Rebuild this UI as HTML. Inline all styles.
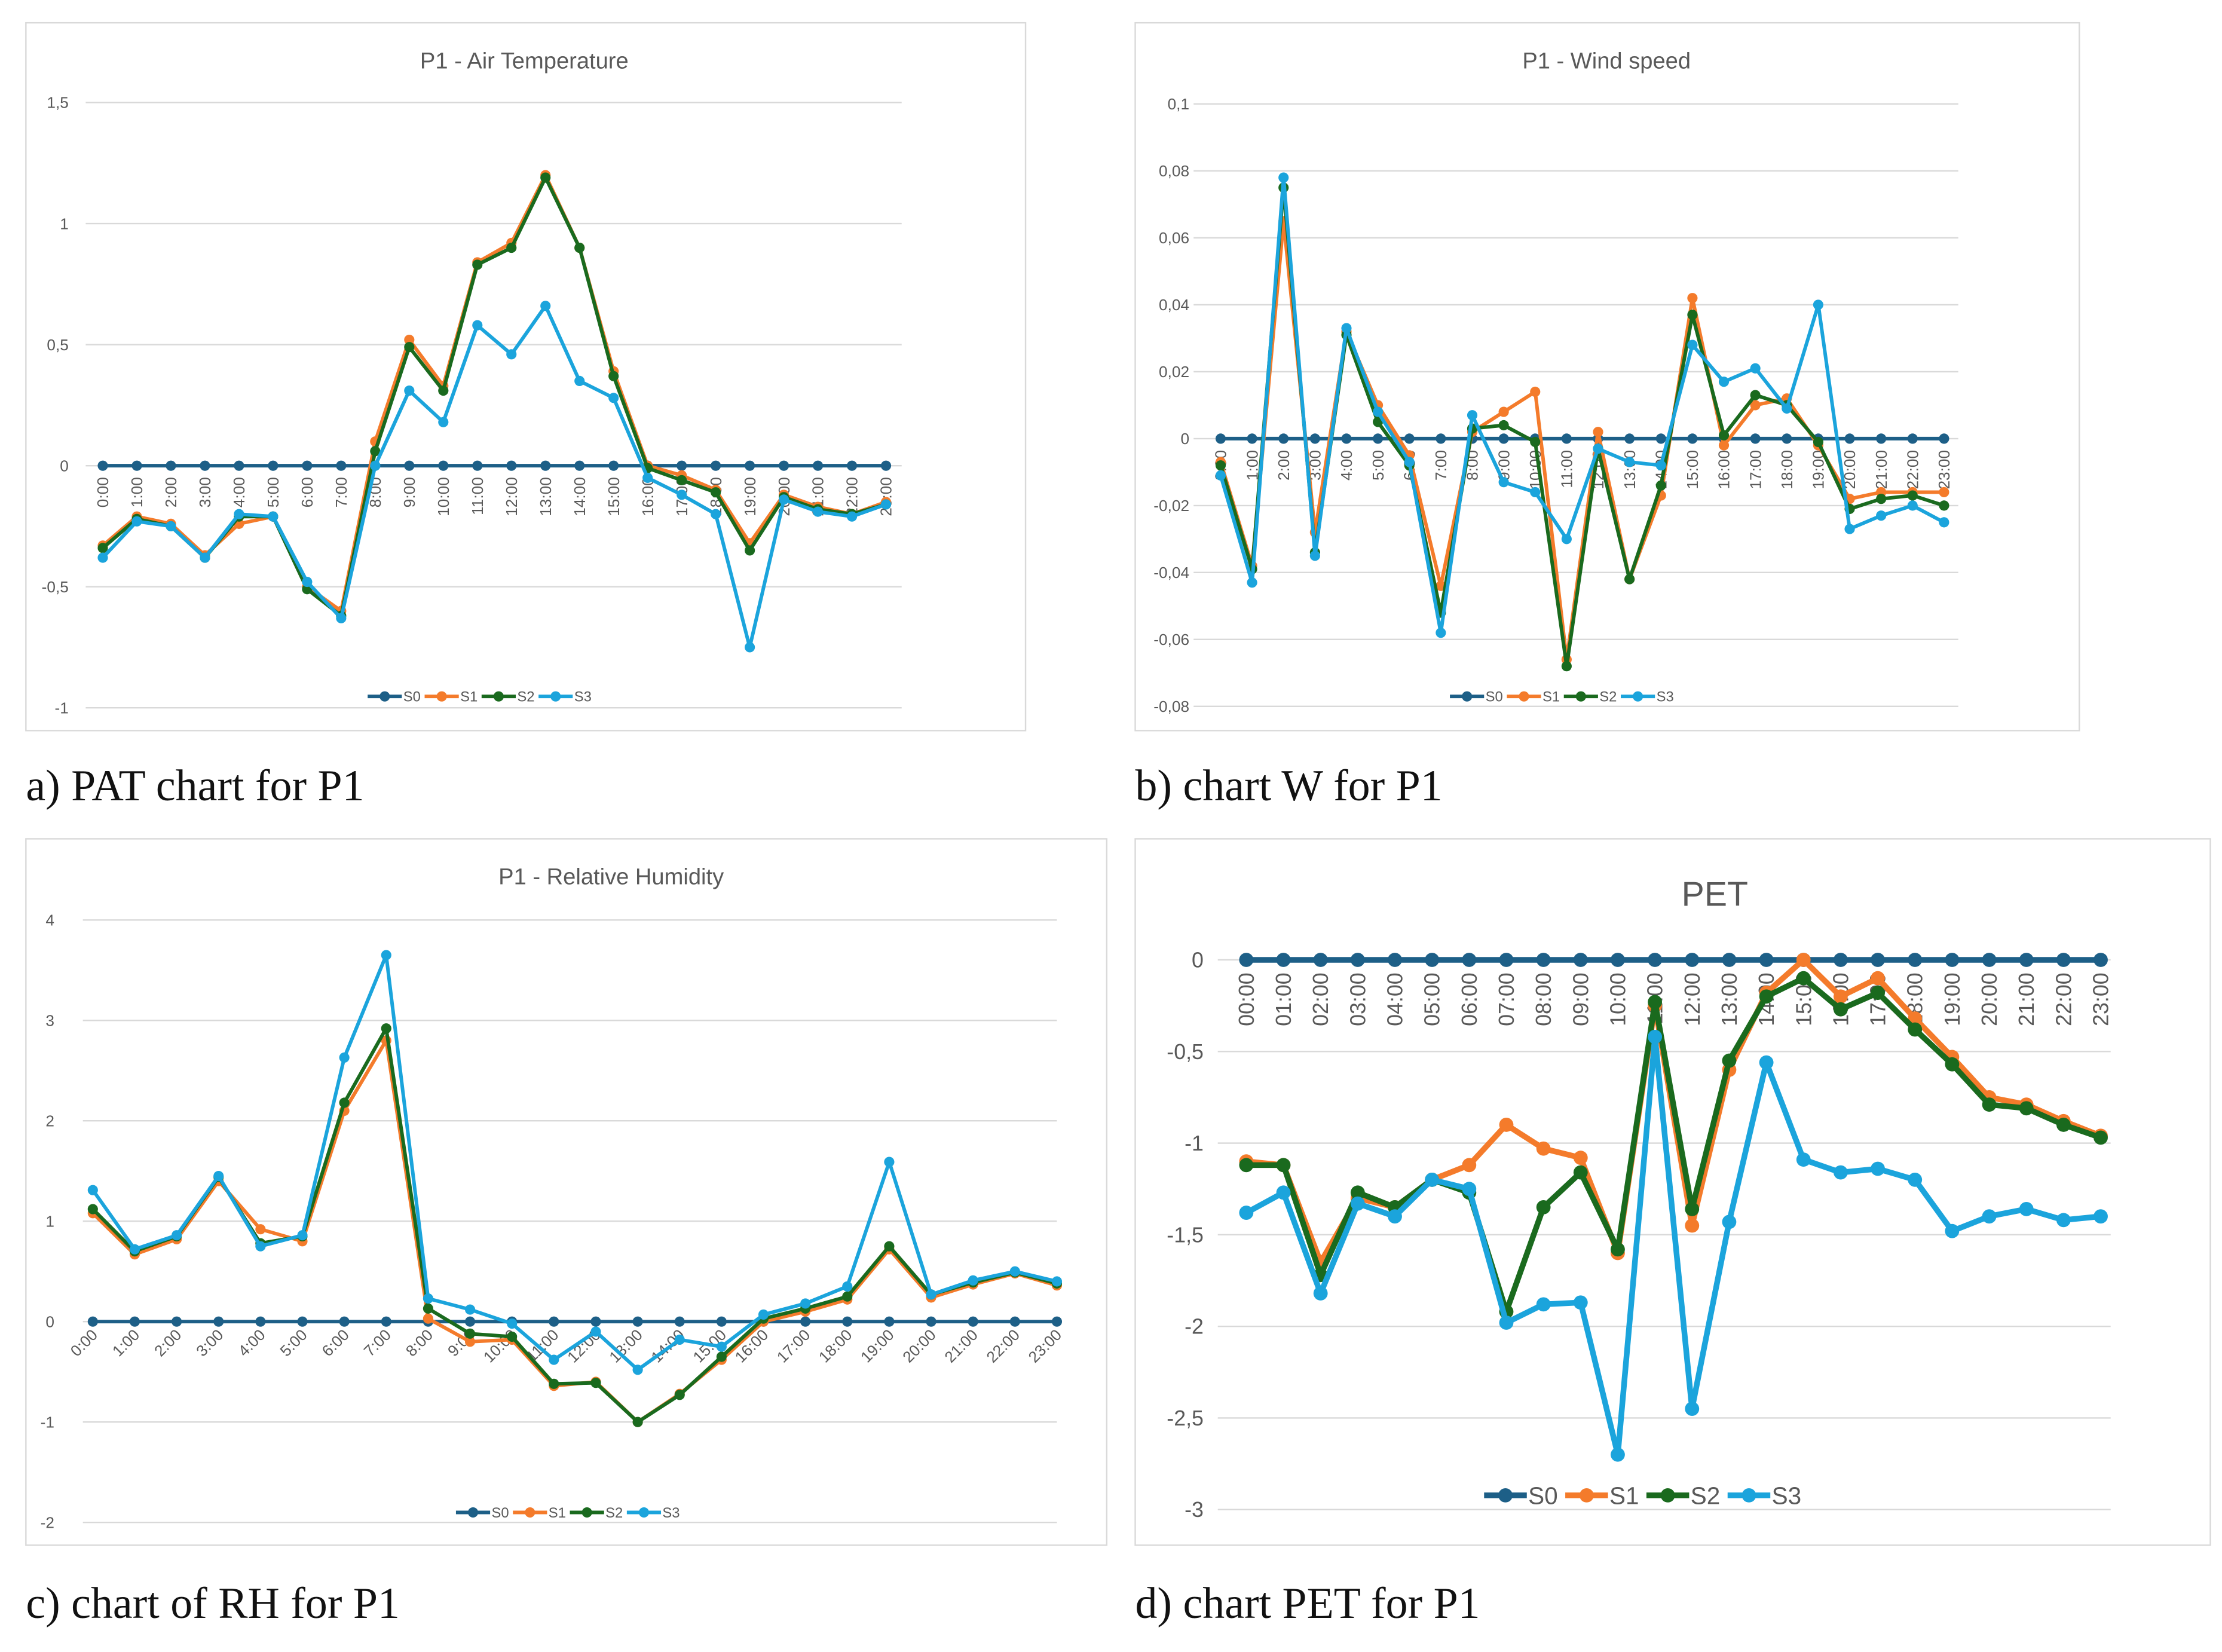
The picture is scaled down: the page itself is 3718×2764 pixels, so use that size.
<!DOCTYPE html>
<html><head><meta charset="utf-8">
<style>
html,body{margin:0;padding:0;background:#fff;}
svg{display:block;}
text{font-family:"Liberation Sans",sans-serif;}
.cap{font-family:"Liberation Serif",serif;font-size:31px;fill:#111;}
</style></head>
<body>
<svg id="root" width="3718" height="2764" viewBox="0 0 1560 1160" xmlns="http://www.w3.org/2000/svg">
<rect x="0" y="0" width="1560" height="1160" fill="#fff"/>
<text class="cap" x="18" y="562">a) PAT chart for P1</text>
<text class="cap" x="797" y="562">b) chart W for P1</text>
<text class="cap" x="18" y="1136">c) chart of RH for P1</text>
<text class="cap" x="797" y="1136">d) chart PET for P1</text>
</svg>
<script>
const hours = ["0:00","1:00","2:00","3:00","4:00","5:00","6:00","7:00","8:00","9:00","10:00","11:00","12:00","13:00","14:00","15:00","16:00","17:00","18:00","19:00","20:00","21:00","22:00","23:00"];
const hoursPET = ["00:00","01:00","02:00","03:00","04:00","05:00","06:00","07:00","08:00","09:00","10:00","11:00","12:00","13:00","14:00","15:00","16:00","17:00","18:00","19:00","20:00","21:00","22:00","23:00"];
const seriesNames = ["S0","S1","S2","S3"];
const s0 = [0,0,0,0,0,0,0,0,0,0,0,0,0,0,0,0,0,0,0,0,0,0,0,0];

const patS1 = [-0.33,-0.21,-0.24,-0.37,-0.24,-0.21,-0.5,-0.6,0.1,0.52,0.33,0.84,0.92,1.2,0.9,0.39,0.0,-0.04,-0.1,-0.32,-0.12,-0.17,-0.2,-0.15];
const patS2 = [-0.34,-0.22,-0.25,-0.38,-0.21,-0.21,-0.51,-0.62,0.06,0.49,0.31,0.83,0.9,1.19,0.9,0.37,-0.01,-0.06,-0.11,-0.35,-0.13,-0.18,-0.2,-0.16];
const patS3 = [-0.38,-0.23,-0.25,-0.38,-0.2,-0.21,-0.48,-0.63,0.0,0.31,0.18,0.58,0.46,0.66,0.35,0.28,-0.05,-0.12,-0.2,-0.75,-0.14,-0.19,-0.21,-0.16];
const patTicks = ["1,5","1","0,5","0","-0,5","-1"];
const patTickVals = [1.5,1,0.5,0,-0.5,-1];

const wS1 = [-0.007,-0.038,0.065,-0.028,0.032,0.01,-0.005,-0.044,0.002,0.008,0.014,-0.066,0.002,-0.042,-0.017,0.042,-0.002,0.010,0.012,-0.002,-0.018,-0.016,-0.016,-0.016];
const wS2 = [-0.008,-0.039,0.075,-0.034,0.031,0.005,-0.008,-0.052,0.003,0.004,-0.001,-0.068,-0.003,-0.042,-0.014,0.037,0.001,0.013,0.010,-0.001,-0.021,-0.018,-0.017,-0.020];
const wS3 = [-0.011,-0.043,0.078,-0.035,0.033,0.008,-0.007,-0.058,0.007,-0.013,-0.016,-0.030,-0.003,-0.007,-0.008,0.028,0.017,0.021,0.009,0.040,-0.027,-0.023,-0.020,-0.025];
const wTicks = ["0,1","0,08","0,06","0,04","0,02","0","-0,02","-0,04","-0,06","-0,08"];
const wTickVals = [0.1,0.08,0.06,0.04,0.02,0,-0.02,-0.04,-0.06,-0.08];

const rhS1 = [1.08,0.67,0.82,1.4,0.92,0.8,2.1,2.8,0.03,-0.2,-0.18,-0.64,-0.6,-1.0,-0.72,-0.38,0.0,0.1,0.22,0.72,0.24,0.37,0.48,0.36];
const rhS2 = [1.12,0.7,0.85,1.44,0.78,0.85,2.18,2.92,0.13,-0.12,-0.15,-0.62,-0.61,-1.0,-0.73,-0.35,0.03,0.13,0.25,0.75,0.27,0.39,0.49,0.38];
const rhS3 = [1.31,0.72,0.86,1.45,0.75,0.86,2.63,3.65,0.23,0.12,-0.02,-0.38,-0.1,-0.48,-0.18,-0.25,0.07,0.18,0.35,1.59,0.27,0.41,0.5,0.4];
const rhTicks = ["4","3","2","1","0","-1","-2"];
const rhTickVals = [4,3,2,1,0,-1,-2];

const petS1 = [-1.1,-1.12,-1.65,-1.3,-1.35,-1.2,-1.12,-0.9,-1.03,-1.08,-1.6,-0.25,-1.45,-0.6,-0.18,0.0,-0.2,-0.1,-0.32,-0.53,-0.75,-0.79,-0.88,-0.96];
const petS2 = [-1.12,-1.12,-1.72,-1.27,-1.35,-1.2,-1.27,-1.92,-1.35,-1.16,-1.58,-0.23,-1.36,-0.55,-0.2,-0.1,-0.27,-0.18,-0.38,-0.57,-0.79,-0.81,-0.9,-0.97];
const petS3 = [-1.38,-1.27,-1.82,-1.33,-1.4,-1.2,-1.25,-1.98,-1.88,-1.87,-2.7,-0.42,-2.45,-1.43,-0.56,-1.09,-1.16,-1.14,-1.2,-1.48,-1.4,-1.36,-1.42,-1.4];
const petTicks = ["0","-0,5","-1","-1,5","-2","-2,5","-3"];
const petTickVals = [0,-0.5,-1,-1.5,-2,-2.5,-3];

const colors = ["#1d5f87","#f47b2b","#1a6a1e","#1ba4dc"];
const NS = "http://www.w3.org/2000/svg";
const root = document.getElementById("root");
function mk(tag, attrs, parent){const e=document.createElementNS(NS,tag);for(const k in attrs)e.setAttribute(k,attrs[k]);(parent||root).appendChild(e);return e;}

function chart(cfg){
  const g = mk("g",{});
  
  
  const box = mk("rect",{x:cfg.box[0],y:cfg.box[1],width:cfg.box[2],height:cfg.box[3],fill:"#fff",stroke:"#d9d9d9","stroke-width":1},g);
  
  
  const t = mk("text",{x:cfg.titleX,y:cfg.titleY,"text-anchor":"middle","font-size":cfg.titleSize,fill:"#595959"},g);
  t.textContent = cfg.title;
  
  
  const [v0,y0,v1,y1] = cfg.yMap;
  const Y = v => y0 + (v - v0) * (y1 - y0) / (v1 - v0);
  const X = i => cfg.x0 + i * (cfg.x1 - cfg.x0) / 23;
  cfg.tickVals.forEach((v,i)=>{
    const l = mk("line",{x1:cfg.gx0,x2:cfg.gx1,y1:Y(v),y2:Y(v),stroke:"#d9d9d9","stroke-width":1},g);
    
    
    const tt = mk("text",{x:cfg.tickX,y:Y(v)+cfg.tickSize*0.35,"text-anchor":"end","font-size":cfg.tickSize,fill:"#595959"},g);
    tt.textContent = cfg.ticks[i];
    
    
  });
  const y0p = Y(0);
  cfg.cats.forEach((c,i)=>{
    const x = X(i);
    let tx;
    if(cfg.rot === -90){
      tx = mk("text",{x:0,y:0,"text-anchor":"end","font-size":cfg.catSize,fill:"#595959",transform:`translate(${x+cfg.catSize*0.35},${y0p+cfg.catOff}) rotate(-90)`},g);
    } else {
      tx = mk("text",{x:0,y:0,"text-anchor":"end","font-size":cfg.catSize,fill:"#595959",transform:`translate(${x+4},${y0p+cfg.catOff}) rotate(-45)`},g);
    }
    tx.textContent = c;
    
    
  });
  cfg.series.forEach((vals,si)=>{
    const pts = vals.map((v,i)=>X(i).toFixed(1)+","+Y(v).toFixed(1)).join(" ");
    const pl = mk("polyline",{points:pts,fill:"none",stroke:colors[si],"stroke-width":cfg.lw,"stroke-linejoin":"round"},g);
    
    
    vals.forEach((v,i)=>{
      const c = mk("circle",{cx:X(i),cy:Y(v),r:cfg.mr,fill:colors[si]},g);
      
      
    });
  });
  // legend
  let lx = cfg.legX;
  seriesNames.forEach((n,si)=>{
    const lg = mk("g",{},g);
    
    
    mk("line",{x1:lx,x2:lx+cfg.legLine,y1:cfg.legY,y2:cfg.legY,stroke:colors[si],"stroke-width":cfg.lw},lg);
    mk("circle",{cx:lx+cfg.legLine/2,cy:cfg.legY,r:cfg.mr,fill:colors[si]},lg);
    const lt = mk("text",{x:lx+cfg.legLine+1,y:cfg.legY+cfg.legSize*0.36,"font-size":cfg.legSize,fill:"#595959"},lg);
    lt.textContent = n;
    lx += cfg.legStep;
  });
}

chart({name:"chart-air-temperature",box:[18,16,702,497],title:"P1 - Air Temperature",titleX:368,titleY:48,titleSize:16,
  yMap:[0,327,1,157],x0:72,x1:622,gx0:60,gx1:633,tickX:48,tickSize:11,ticks:patTicks,tickVals:patTickVals,
  cats:hours,rot:-90,catSize:11,catOff:8,series:[s0,patS1,patS2,patS3],lw:2.5,mr:3.6,
  legX:258,legY:489,legLine:24,legStep:40,legSize:10});
chart({name:"chart-wind-speed",box:[797,16,663,497],title:"P1 - Wind speed",titleX:1128,titleY:48,titleSize:16,
  yMap:[0,308,0.08,120],x0:857,x1:1365,gx0:838,gx1:1375,tickX:835,tickSize:11,ticks:wTicks,tickVals:wTickVals,
  cats:hours,rot:-90,catSize:11,catOff:8,series:[s0,wS1,wS2,wS3],lw:2.5,mr:3.6,
  legX:1018,legY:489,legLine:24,legStep:40,legSize:10});
chart({name:"chart-relative-humidity",box:[18,589,759,496],title:"P1 - Relative Humidity",titleX:429,titleY:621,titleSize:16,
  yMap:[0,928,4,646],x0:65,x1:742,gx0:58,gx1:742,tickX:38,tickSize:11,ticks:rhTicks,tickVals:rhTickVals,
  cats:hours,rot:-45,catSize:11,catOff:10,series:[s0,rhS1,rhS2,rhS3],lw:2.5,mr:3.6,
  legX:320,legY:1062,legLine:24,legStep:40,legSize:10});
chart({name:"chart-pet",box:[797,589,755,496],title:"PET",titleX:1204,titleY:636,titleSize:24,
  yMap:[0,674,-3,1060],x0:875,x1:1475,gx0:855,gx1:1482,tickX:845,tickSize:15,ticks:petTicks,tickVals:petTickVals,
  cats:hoursPET,rot:-90,catSize:15,catOff:9,series:[s0,petS1,petS2,petS3],lw:4,mr:5,
  legX:1042,legY:1050,legLine:30,legStep:57,legSize:17});
</script>
</body></html>
